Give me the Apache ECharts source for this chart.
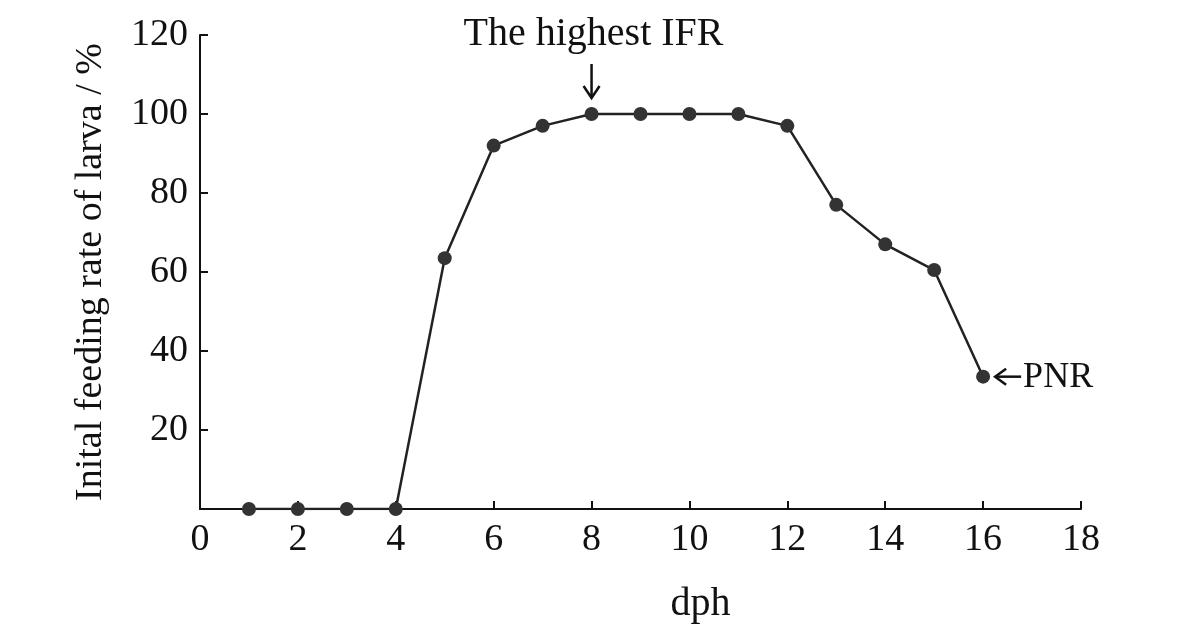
<!DOCTYPE html>
<html><head><meta charset="utf-8">
<script src="https://cdn.jsdelivr.net/npm/echarts@6/dist/echarts.min.js"></script>
<style>html,body{margin:0;background:#fff}#c{width:1200px;height:629px}</style>
</head><body><div id="c"></div>
<script>
const days = [1, 2, 3, 4, 5, 6, 7, 8, 9, 10, 11, 12, 13, 14, 15, 16];
const feedingRate = [0, 0, 0, 0, 63.5, 92, 97, 100, 100, 100, 100, 97, 77, 67, 60.5, 33.5];
const peakLabel = "The highest IFR";
const pnrLabel = "PNR";

const font = "Liberation Serif";
const chart = echarts.init(document.getElementById("c"));
chart.setOption({
  animation: false,
  grid: { left: 200, right: 119, top: 35, bottom: 119 },
  xAxis: {
    type: "value", min: 0, max: 18, interval: 2,
    name: "dph", nameLocation: "middle", nameGap: 75,
    nameTextStyle: { fontFamily: font, fontSize: 40, color: "#111", padding: [0, 0, 0, 120] },
    axisLine: { lineStyle: { color: "#111", width: 2 } },
    axisTick: { inside: true, length: 8, lineStyle: { color: "#111", width: 2 } },
    axisLabel: { fontFamily: font, fontSize: 38, color: "#111", margin: 12 },
    splitLine: { show: false }
  },
  yAxis: {
    type: "value", min: 0, max: 120, interval: 20,
    name: "Inital feeding rate of larva / %", nameLocation: "middle", nameGap: 90,
    nameTextStyle: { fontFamily: font, fontSize: 38, color: "#111" },
    axisLine: { show: true, lineStyle: { color: "#111", width: 2 } },
    axisTick: { show: true, inside: true, length: 8, lineStyle: { color: "#111", width: 2 } },
    axisLabel: { fontFamily: font, fontSize: 38, color: "#111", margin: 12,
      formatter: v => v === 0 ? "" : v },
    splitLine: { show: false }
  },
  series: [{
    type: "line",
    data: days.map((d, i) => [d, feedingRate[i]]),
    symbol: "circle", symbolSize: 14,
    itemStyle: { color: "#333" },
    lineStyle: { color: "#222", width: 2.5 }
  }]
});

const peak = chart.convertToPixel({ gridIndex: 0 }, [8, 100]);
const pnr = chart.convertToPixel({ gridIndex: 0 }, [16, 33.5]);
chart.setOption({
  graphic: [
    { type: "text", x: peak[0] + 2, y: 34, style: { text: peakLabel, font: "40px " + font,
      fill: "#111", align: "center", verticalAlign: "middle" } },
    { type: "polyline", shape: { points: [[peak[0], peak[1] - 50], [peak[0], peak[1] - 16]] },
      style: { stroke: "#111", lineWidth: 2.5, fill: null } },
    { type: "polyline", shape: { points: [[peak[0] - 8, peak[1] - 28], [peak[0], peak[1] - 16], [peak[0] + 8, peak[1] - 28]] },
      style: { stroke: "#111", lineWidth: 2.5, fill: null } },
    { type: "polyline", shape: { points: [[pnr[0] + 12, pnr[1]], [pnr[0] + 38, pnr[1]]] },
      style: { stroke: "#111", lineWidth: 2.5, fill: null } },
    { type: "polyline", shape: { points: [[pnr[0] + 23, pnr[1] - 8], [pnr[0] + 12, pnr[1]], [pnr[0] + 23, pnr[1] + 8]] },
      style: { stroke: "#111", lineWidth: 2.5, fill: null } },
    { type: "text", x: pnr[0] + 40, y: pnr[1] + 1, style: { text: pnrLabel, font: "36px " + font,
      fill: "#111", align: "left", verticalAlign: "middle" } }
  ]
});
</script></body></html>
